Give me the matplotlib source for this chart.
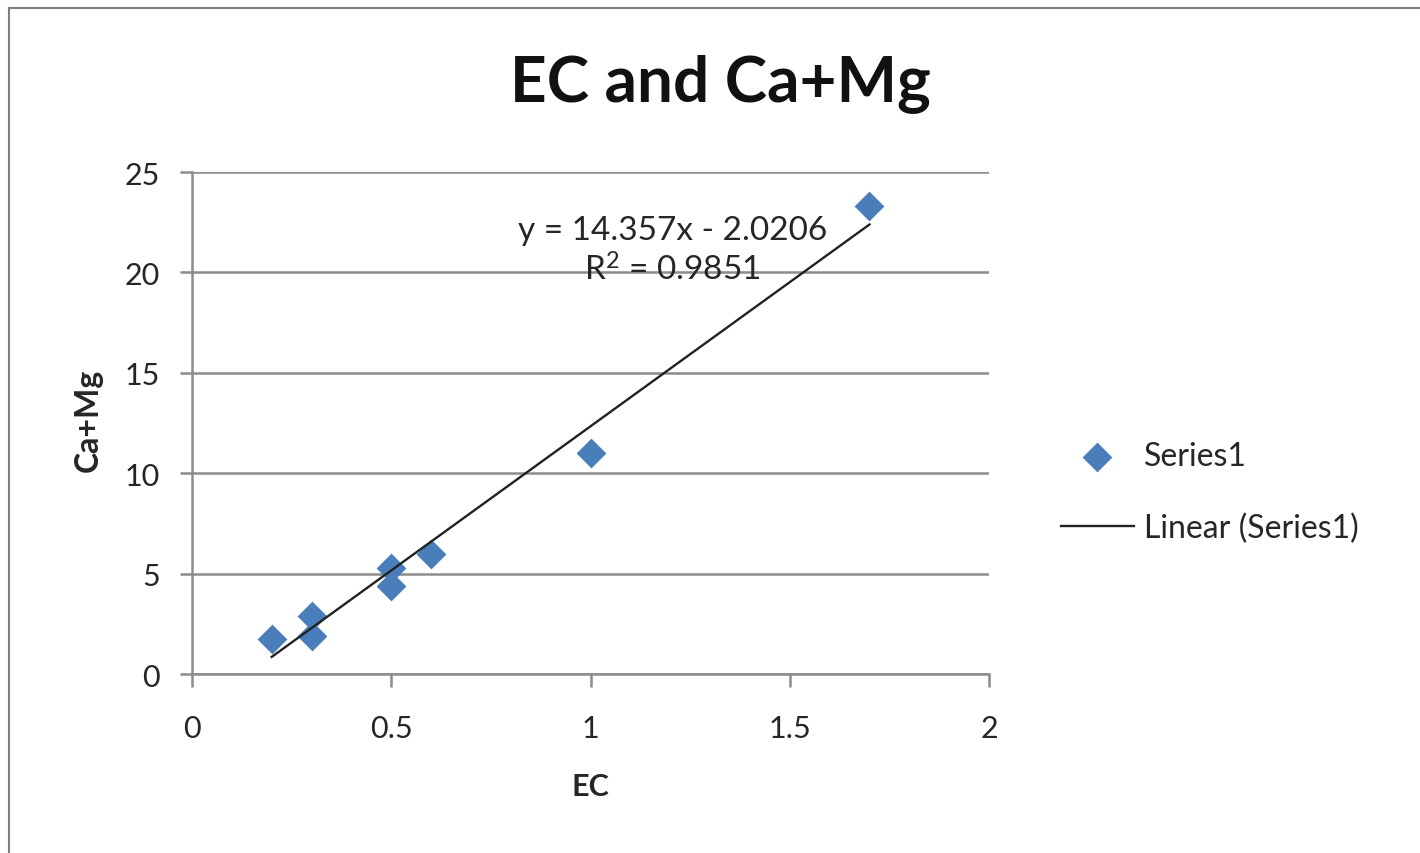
import matplotlib.pyplot as plt
from matplotlib.patches import Rectangle

# EC vs Ca+Mg measurements
ec = [0.2, 0.3, 0.3, 0.5, 0.5, 0.6, 1.0, 1.7]
ca_mg = [1.75, 2.9, 1.9, 5.3, 4.4, 6.0, 11.0, 23.3]

# linear trendline coefficients
slope = 14.357
intercept = -2.0206
r_squared = 0.9851

x_ticks = [0, 0.5, 1, 1.5, 2]
y_ticks = [0, 5, 10, 15, 20, 25]

font = 'Lato'
grid_grey = '#8c8c8c'
text_col = '#262626'

fig = plt.figure(figsize=(14.2, 8.54), dpi=100)
ax = fig.add_axes([0.1352, 0.2096, 0.5613, 0.5878])

# outer chart border
fig.patches.append(Rectangle((9 / 1420, -0.05), 1.1, 1 - 9 / 854 + 0.05,
                             transform=fig.transFigure, fill=False,
                             edgecolor='#7f7f7f', linewidth=1.5))

ax.scatter(ec, ca_mg, marker='D', s=230, color='#4a7ebb', zorder=3, label='Series1', linewidths=0)

x_fit = [min(ec), max(ec)]
y_fit = [slope * v + intercept for v in x_fit]
ax.plot(x_fit, y_fit, color='#222222', linewidth=1.7, zorder=4, label='Linear (Series1)')

ax.set_xlim(0, 2)
ax.set_ylim(0, 25)
ax.set_xticks(x_ticks)
ax.set_xticklabels(['0', '0.5', '1', '1.5', '2'])
ax.set_yticks(y_ticks)
ax.yaxis.grid(True, color=grid_grey, linewidth=1.8)
ax.set_axisbelow(True)

for side in ['top', 'right']:
    ax.spines[side].set_visible(False)
for side in ['left', 'bottom']:
    ax.spines[side].set_color(grid_grey)
    ax.spines[side].set_linewidth(1.8)
ax.tick_params(colors=grid_grey, width=1.8, length=9, labelcolor=text_col,
               labelsize=22)
ax.tick_params(axis='x', pad=20)
ax.tick_params(axis='y', pad=14)
for lbl in ax.get_xticklabels() + ax.get_yticklabels():
    lbl.set_fontfamily(font)

ax.set_xlabel('EC', fontsize=22, fontweight='bold', fontfamily=font, color=text_col, va='center')
ax.set_ylabel('Ca+Mg', fontsize=23, fontweight='bold', fontfamily=font, color=text_col, va='center')
ax.xaxis.set_label_coords(0.5, -0.223)
ax.yaxis.set_label_coords(-0.1305, 0.508)

fig.text(720 / 1420, 1 - 84 / 854, 'EC and Ca+Mg', ha='center', va='center',
         fontsize=46, fontweight='bold', fontfamily=font, color='#111111')

eq = 'y = {:.3f}x - {:.4f}'.format(slope, -intercept)
ax.text(1.205, 21.1, eq + '\n$\\mathregular{R^2}$ = ' + '{:.4f}'.format(r_squared),
        ha='center', va='center', fontsize=24, fontfamily=font, color=text_col,
        linespacing=1.3)

leg = fig.legend(loc='center left', bbox_to_anchor=(1032 / 1420, 1 - 493 / 854),
                 frameon=False, prop={'family': font, 'size': 23},
                 labelspacing=1.3, handlelength=2.3, handletextpad=0.3)
for t in leg.get_texts():
    t.set_color(text_col)

fig.savefig('out.png', dpi=100)
